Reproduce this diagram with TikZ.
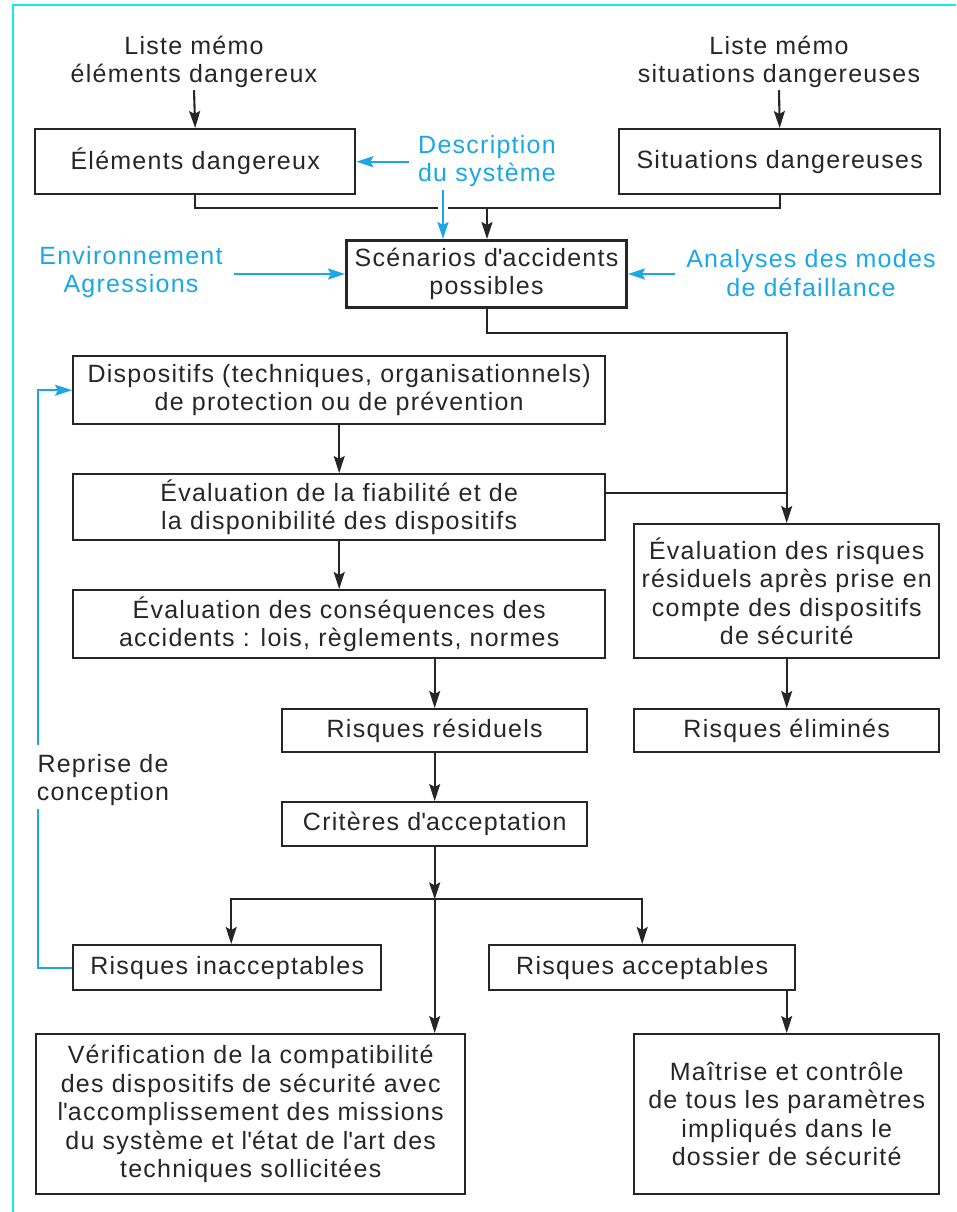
\documentclass[tikz,border=0pt]{standalone}
\usepackage{fontspec}
\setmainfont{Liberation Sans}[LetterSpace=5]
\usetikzlibrary{arrows.meta}
\definecolor{ink}{HTML}{262626}
\definecolor{skyblue}{HTML}{1AA7E6}
\definecolor{framecyan}{RGB}{20,232,240}
\tikzset{
  txt/.style={font=\fontsize{25}{28.5}\selectfont, text=ink},
  box/.style={txt, draw=ink, line width=2.4pt, rectangle, align=center,
              anchor=north west, inner sep=2pt},
  lbl/.style={txt, inner sep=0pt, align=center},
  bluelbl/.style={lbl, text=skyblue},
  conn/.style={draw=ink, line width=2.1pt},
  arr/.style={conn, -{Stealth[length=17pt,width=11pt,inset=3pt]}},
  bconn/.style={draw=skyblue, line width=2.2pt},
  barr/.style={bconn, -{Stealth[length=17pt,width=11pt,inset=3pt]}},
}
\begin{document}
\begin{tikzpicture}[x=1pt,y=-1pt]
\useasboundingbox (0,0) rectangle (956,1212);
% page frame (top and left edges)
\draw[framecyan, line width=2.8pt] (13,1212) -- (13,5) -- (956,5);

% free labels
\node[lbl] (l1) at (194,62) {Liste mémo\\éléments dangereux};
\node[lbl] (l2) at (779,62) {Liste mémo\\situations dangereuses};
\node[bluelbl] (desc) at (487,161) {Description\\du système};
\node[bluelbl] (env) at (131,272) {Environnement\\Agressions};
\node[bluelbl] (anal) at (811,273) {Analyses des modes\\de défaillance};
\node[lbl] (reprise) at (103,780) {Reprise de\\conception};

% boxes
\node[box, minimum width=320pt, minimum height=65pt] (elem) at (34,128) {Éléments dangereux};
\node[box, minimum width=321pt, minimum height=65pt] (situ) at (618,128) {Situations dangereuses};
\node[box, line width=3pt, minimum width=280pt, minimum height=67pt] (scen) at (345,239)
  {Scénarios d\textquotesingle accidents\\possibles};
\node[box, minimum width=532pt, minimum height=68pt] (disp) at (72,355)
  {Dispositifs (techniques, organisationnels)\\de protection ou de prévention};
\node[box, minimum width=532pt, minimum height=66pt] (fiab) at (72,473)
  {Évaluation de la fiabilité et de\\la disponibilité des dispositifs};
\node[box, minimum width=532pt, minimum height=68pt] (cons) at (72,589)
  {Évaluation des conséquences des\\accidents : lois, règlements, normes};
\node[box, minimum width=305pt, minimum height=134pt] (evr) at (633,523)
  {Évaluation des risques\\résiduels après prise en\\compte des dispositifs\\de sécurité};
\node[box, minimum width=305pt, minimum height=43pt] (resid) at (281,708) {Risques résiduels};
\node[box, minimum width=305pt, minimum height=43pt] (elim) at (633,708) {Risques éliminés};
\node[box, minimum width=305pt, minimum height=44pt] (crit) at (281,801) {Critères d\textquotesingle acceptation};
\node[box, minimum width=308pt, minimum height=45pt] (inacc) at (72,944) {Risques inacceptables};
\node[box, minimum width=306pt, minimum height=45pt] (acc) at (488,944) {Risques acceptables};
\node[box, minimum width=429pt, minimum height=160pt] (verif) at (35,1033)
  {Vérification de la compatibilité\\des dispositifs de sécurité avec\\l\textquotesingle accomplissement des missions\\du système et l\textquotesingle état de l\textquotesingle art des\\techniques sollicitées};
\node[box, minimum width=305pt, minimum height=160pt] (mait) at (633,1033)
  {Maîtrise et contrôle\\de tous les paramètres\\impliqués dans le\\dossier de sécurité};

% junction points
\coordinate (j1) at (487,208);
\coordinate (dsrc) at (443,190);
\coordinate (br) at ([yshift=-52pt]crit.south);
\coordinate (rtop) at (38,745);
\coordinate (rbot) at (38,809);

% top part
\draw[arr] ([yshift=-2pt]l1.south) -- (elem.north);
\draw[arr] ([yshift=-2pt]l2.south) -- (situ.north);
\draw[conn] (elem.south) |- (j1);
\draw[conn] (situ.south) |- (j1);
\draw[arr] (j1) -- (j1 |- scen.north);
\fill[white] ([shift={(-5pt,-4pt)}]dsrc |- j1) rectangle ([shift={(5pt,4pt)}]dsrc |- j1);
\draw[barr] (dsrc) -- (dsrc |- scen.north);
\draw[barr] ([xshift=-9pt]desc.west |- elem.east) -- (elem.east);
\draw[barr] ([xshift=11pt]env.east |- scen.west) -- (scen.west);
\draw[barr] ([xshift=-11pt]anal.west |- scen.east) -- (scen.east);

% right branch
\draw[arr] (j1 |- scen.south) -- ++(0,24) -| (evr.north);
\draw[conn] ([yshift=14pt]fiab.east) -- ([yshift=14pt]fiab.east -| evr.north);
\draw[arr] (evr.south) -- (elim.north);

% main chain
\draw[arr] (disp.south) -- (fiab.north);
\draw[arr] (fiab.south) -- (cons.north);
\draw[arr] (resid.north |- cons.south) -- (resid.north);
\draw[arr] (resid.south) -- (crit.north);
\draw[arr] (crit.south) -- (br);
\draw[arr] (br) -| ([xshift=4pt]inacc.north);
\draw[arr] (br) -| (acc.north);
\draw[arr] (br) -- (br |- verif.north);
\draw[arr] (acc.south -| mait.north) -- (mait.north);

% redesign loop
\draw[bconn] (inacc.west) -| (rbot);
\draw[barr] (rtop) |- (disp.west);
\end{tikzpicture}
\end{document}
